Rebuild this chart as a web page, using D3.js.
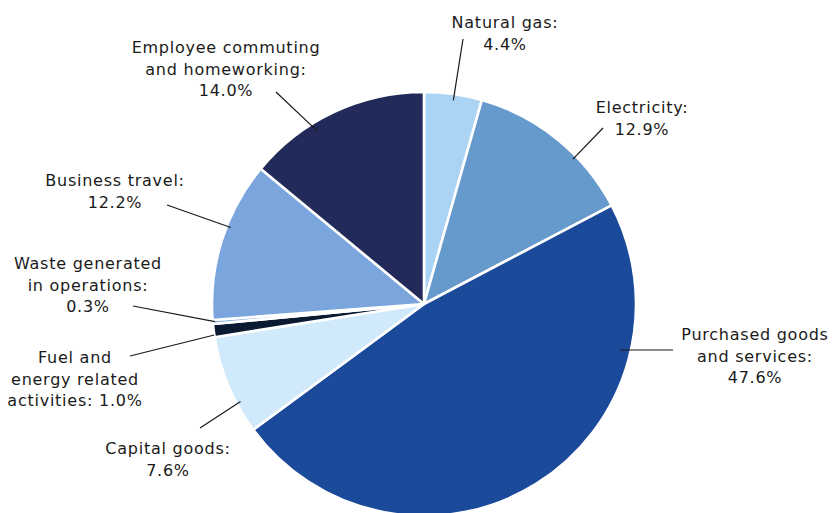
<!DOCTYPE html>
<html>
<head>
<meta charset="utf-8">
<script src="https://cdn.jsdelivr.net/npm/d3@7"></script>
<style>
  html, body { margin: 0; padding: 0; background: #fff; }
  svg { display: block; }
  text { font-family: "DejaVu Sans", Verdana, sans-serif; font-size: 16px; letter-spacing: 0.75px; fill: #1a1a1a; }
</style>
</head>
<body>
<svg id="chart"></svg>
<script>
// emissions share by source, clockwise from 12 o'clock
const categories = ['Natural gas', 'Electricity', 'Purchased goods and services', 'Capital goods',
  'Fuel and energy related activities', 'Waste generated in operations', 'Business travel',
  'Employee commuting and homeworking'];
const shares = [4.4, 12.9, 47.6, 7.6, 1.0, 0.3, 12.2, 14.0];
const labelLines = [
  ['Natural gas:'],
  ['Electricity:'],
  ['Purchased goods', 'and services:'],
  ['Capital goods:'],
  ['Fuel and', 'energy related', 'activities:'],
  ['Waste generated', 'in operations:'],
  ['Business travel:'],
  ['Employee commuting', 'and homeworking:']
];
const colors = ['#aad3f4', '#6699cc', '#1c4a9b', '#d0eafb', '#0b1a33', '#8fb2de', '#7ba6dd', '#222a5a'];

// label placement: text centre x, first baseline, leader start, leader end (angle in deg, radius fraction)
const layout = [
  { x: 505, y: 28, from: [463, 39], ang: 8.2, rf: 0.97 },
  { x: 642, y: 113, from: [603, 128], ang: 45.8, rf: 0.98 },
  { x: 755, y: 340, from: [673, 350], ang: 103.2, rf: 0.95 },
  { x: 168, y: 454, from: [200, 428], ang: 242, rf: 0.98 },
  { x: 75, y: 363, from: [130, 356], ang: 261.6, rf: 1.0 },
  { x: 88, y: 269, from: [133, 306], ang: 265.2, rf: 0.99 },
  { x: 115, y: 186, from: [167, 205], ang: 291.6, rf: 0.98 },
  { x: 226, y: 53, from: [276, 92], ang: 328.3, rf: 0.96 }
];

const svgWidth = 832, svgHeight = 513;
const cx = 424, cy = 304, radius = 212;
const lineH = 21.5;

const data = categories.map((c, i) => ({ name: c, value: shares[i], lines: labelLines[i], color: colors[i], pos: layout[i] }));

const svg = d3.select('#chart').attr('width', svgWidth).attr('height', svgHeight);

const pie = d3.pie().sort(null).value(d => d.value);
const arc = d3.arc().innerRadius(0).outerRadius(radius);

const pieGroup = svg.append('g').attr('transform', `translate(${cx},${cy})`);

pieGroup.selectAll('path')
  .data(pie(data))
  .join('path')
  .attr('d', arc)
  .attr('fill', d => d.data.color)
  .attr('stroke', '#fff')
  .attr('stroke-width', 2.6)
  .attr('stroke-linejoin', 'round');

// leader lines
svg.append('g').selectAll('line')
  .data(data)
  .join('line')
  .attr('x1', d => d.pos.from[0])
  .attr('y1', d => d.pos.from[1])
  .attr('x2', d => cx + d3.pointRadial(d.pos.ang * Math.PI / 180, radius * d.pos.rf)[0])
  .attr('y2', d => cy + d3.pointRadial(d.pos.ang * Math.PI / 180, radius * d.pos.rf)[1])
  .attr('stroke', '#1a1a1a')
  .attr('stroke-width', 1.2);

// labels
const labels = svg.append('g').selectAll('text')
  .data(data)
  .join('text')
  .attr('text-anchor', 'middle')
  .attr('x', d => d.pos.x)
  .attr('y', d => d.pos.y);

labels.each(function (d) {
  const t = d3.select(this);
  const pct = d.value.toFixed(1) + '%';
  const lines = d.lines.slice();
  // short last lines carry the value on the same row
  if (lines[lines.length - 1] === 'activities:') lines[lines.length - 1] += ' ' + pct;
  else lines.push(pct);
  lines.forEach((l, i) => {
    t.append('tspan').attr('x', d.pos.x).attr('dy', i === 0 ? 0 : lineH).text(l);
  });
});
</script>
</body>
</html>
